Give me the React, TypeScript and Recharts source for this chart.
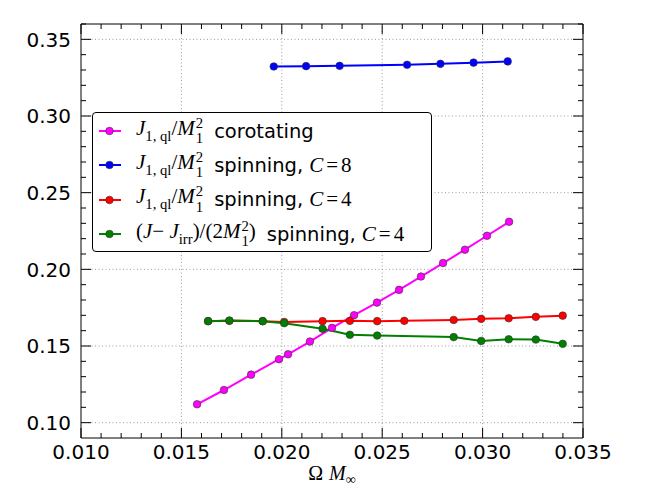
import React from 'react';
import { LineChart, Line, XAxis, YAxis, ReferenceLine, ReferenceArea, Legend } from 'recharts';

// J_{1,ql}/M_1^2, corotating
const corotOmega = [0.01578, 0.01712, 0.01847, 0.01986, 0.02031, 0.0214, 0.0225, 0.0236, 0.02474, 0.02584, 0.02693, 0.02803, 0.02912, 0.03022, 0.03132];
const corotJ = [0.112, 0.1213, 0.1313, 0.1414, 0.1446, 0.1529, 0.1618, 0.1701, 0.1783, 0.1866, 0.1953, 0.2041, 0.2128, 0.2219, 0.231];

// J_{1,ql}/M_1^2, spinning C=8
const spin8Omega = [0.0196, 0.02121, 0.02288, 0.02624, 0.0279, 0.02955, 0.03125];
const spin8J = [0.3323, 0.3325, 0.3327, 0.3334, 0.334, 0.3348, 0.3356];

// J_{1,ql}/M_1^2, spinning C=4
const spin4Omega = [0.01633, 0.01739, 0.01905, 0.02012, 0.02203, 0.02339, 0.02475, 0.0261, 0.02856, 0.02993, 0.0313, 0.03265, 0.03399];
const spin4J = [0.1662, 0.1664, 0.1662, 0.1657, 0.1662, 0.1664, 0.1662, 0.1664, 0.167, 0.1677, 0.1681, 0.169, 0.1698];

// (J - J_irr)/(2 M_1^2), spinning C=4
const diffOmega = [0.01633, 0.01739, 0.01905, 0.02012, 0.02203, 0.02339, 0.02475, 0.02856, 0.02993, 0.0313, 0.03265, 0.03399];
const diffJ = [0.1662, 0.1666, 0.1662, 0.1649, 0.1612, 0.1573, 0.1568, 0.1558, 0.1533, 0.1544, 0.1542, 0.1514];

const xMajor = [0.01, 0.015, 0.02, 0.025, 0.03, 0.035];
const yMajor = [0.1, 0.15, 0.2, 0.25, 0.3, 0.35];
const xDomain = [0.01, 0.035];
const yDomain = [0.09, 0.36];

const xTicks: number[] = [];
for (let i = 0; i <= 25; i++) xTicks.push(Number((0.01 + i * 0.001).toFixed(3)));
const yTicks: number[] = [];
for (let i = 0; i <= 26; i++) yTicks.push(Number((0.1 + i * 0.01).toFixed(2)));

const toPoints = (xs: number[], ys: number[]) => xs.map((x, i) => ({ x, y: ys[i] }));

const W = 648;
const H = 504;
const M = { top: 24, right: 65, left: 0, bottom: 0 };
const Y_AXIS_W = 81;
const X_AXIS_H = 66;
const PLOT_TOP = M.top;
const PLOT_BOTTOM = H - X_AXIS_H;
const PLOT_LEFT = Y_AXIS_W;
const PLOT_RIGHT = W - M.right;

const SANS = '"DejaVu Sans", sans-serif';
const SERIF = '"Liberation Serif", serif';

const isMajor = (v: number, list: number[]) => list.some((m) => Math.abs(m - v) < 1e-7);

function XTick(props: any) {
  const { x, payload } = props;
  const v = payload.value;
  const major = isMajor(v, xMajor);
  const len = major ? 10 : 5;
  return (
    <g>
      <line x1={x} x2={x} y1={PLOT_BOTTOM} y2={PLOT_BOTTOM - len} stroke="#000" />
      <line x1={x} x2={x} y1={PLOT_TOP} y2={PLOT_TOP + len} stroke="#000" />
      {major && (
        <text x={x} y={PLOT_BOTTOM + 21} textAnchor="middle" fontFamily={SANS} fontSize={20} fill="#000">
          {v.toFixed(3)}
        </text>
      )}
    </g>
  );
}

function YTick(props: any) {
  const { y, payload } = props;
  const v = payload.value;
  const major = isMajor(v, yMajor);
  const len = major ? 10 : 5;
  return (
    <g>
      <line x1={PLOT_LEFT} x2={PLOT_LEFT + len} y1={y} y2={y} stroke="#000" />
      <line x1={PLOT_RIGHT} x2={PLOT_RIGHT - len} y1={y} y2={y} stroke="#000" />
      {major && (
        <text x={PLOT_LEFT - 10} y={y} dy="0.36em" textAnchor="end" fontFamily={SANS} fontSize={20} fill="#000">
          {v.toFixed(2)}
        </text>
      )}
    </g>
  );
}

function XLabel(props: any) {
  const vb = props.viewBox || { x: PLOT_LEFT, y: PLOT_BOTTOM, width: PLOT_RIGHT - PLOT_LEFT };
  const cx = vb.x + vb.width / 2;
  return (
    <text x={cx} y={vb.y + 42} textAnchor="middle" fontFamily={SERIF} fontSize={20} fill="#000">
      <tspan>Ω</tspan>
      <tspan dx={6} fontStyle="italic">M</tspan>
      <tspan fontSize={14} dy={4}>∞</tspan>
    </text>
  );
}

function Scripts({ sup, sub }: { sup: string; sub: string }) {
  return (
    <span
      style={{
        display: 'inline-flex',
        flexDirection: 'column',
        fontSize: '0.7em',
        lineHeight: 1.05,
        verticalAlign: '0.5em',
        marginLeft: 1,
      }}
    >
      <span>{sup}</span>
      <span>{sub}</span>
    </span>
  );
}

const sub = (t: string) => <span style={{ fontSize: '0.7em', verticalAlign: '-0.4em' }}>{t}</span>;

const Jql = () => (
  <>
    <i>J</i>
    {sub('1, ql')}
    /<i>M</i>
    <Scripts sup="2" sub="1" />
  </>
);

const CalC = (n: string) => (
  <span style={{ fontFamily: SERIF, fontSize: 21, marginLeft: 6 }}>
    <i>C</i>
    <span style={{ margin: '0 3px' }}>=</span>
    {n}
  </span>
);

const legendRows = [
  { color: '#ff00ff', math: <Jql />, text: 'corotating', tail: null },
  { color: '#0000ff', math: <Jql />, text: 'spinning,', tail: CalC('8') },
  { color: '#ff0000', math: <Jql />, text: 'spinning,', tail: CalC('4') },
  {
    color: '#008000',
    math: (
      <>
        (<i>J</i>− <i>J</i>
        {sub('irr')})/(2<i>M</i>
        <Scripts sup="2" sub="1" />)
      </>
    ),
    text: 'spinning,',
    tail: CalC('4'),
  },
];

function LegendBox() {
  return (
    <div
      style={{
        width: 340,
        height: 140,
        boxSizing: 'border-box',
        border: '1px solid #000',
        borderRadius: 4,
        background: '#fff',
        paddingTop: 1,
      }}
    >
      {legendRows.map((r, i) => (
        <div key={i} style={{ display: 'flex', alignItems: 'center', height: 34.3, whiteSpace: 'nowrap' }}>
          <svg width={43} height={20} style={{ flex: 'none' }}>
            <line x1={6} x2={28} y1={10} y2={10} stroke={r.color} strokeWidth={2} />
            <circle cx={16.5} cy={10} r={3.8} fill={r.color} stroke="#333" strokeWidth={0.6} />
          </svg>
          <span style={{ fontFamily: SERIF, fontSize: 21 }}>{r.math}</span>
          <span style={{ fontFamily: SANS, fontSize: 19.5, marginLeft: 11 }}>{r.text}</span>
          {r.tail}
        </div>
      ))}
    </div>
  );
}

const series = [
  { name: 'corot', color: '#ff00ff', data: toPoints(corotOmega, corotJ) },
  { name: 'spin8', color: '#0000ff', data: toPoints(spin8Omega, spin8J) },
  { name: 'spin4', color: '#ff0000', data: toPoints(spin4Omega, spin4J) },
  { name: 'diff', color: '#008000', data: toPoints(diffOmega, diffJ) },
];

export default function App() {
  return (
    <div style={{ position: 'absolute', left: 0, top: 0, width: W, height: H, background: '#fff' }}>
      <LineChart width={W} height={H} margin={M}>
        <XAxis
          dataKey="x"
          type="number"
          domain={xDomain}
          ticks={xTicks}
          interval={0}
          allowDataOverflow
          axisLine={false}
          tickLine={false}
          tick={<XTick />}
          height={X_AXIS_H}
          label={{ content: (p: any) => <XLabel {...p} /> }}
        />
        <YAxis
          dataKey="y"
          type="number"
          domain={yDomain}
          ticks={yTicks}
          interval={0}
          allowDataOverflow
          axisLine={false}
          tickLine={false}
          tick={<YTick />}
          width={Y_AXIS_W}
        />
        {xMajor.slice(1, -1).map((v) => (
          <ReferenceLine key={'gx' + v} x={v} stroke="#999" strokeDasharray="1 2.5" />
        ))}
        {yMajor.map((v) => (
          <ReferenceLine key={'gy' + v} y={v} stroke="#999" strokeDasharray="1 2.5" />
        ))}
        <ReferenceArea x1={xDomain[0]} x2={xDomain[1]} y1={yDomain[0]} y2={yDomain[1]} fill="none" stroke="#000" strokeWidth={1} />
        {series.map((s) => (
          <Line
            key={s.name}
            data={s.data}
            dataKey="y"
            stroke={s.color}
            strokeWidth={2}
            dot={{ r: 3.8, fill: s.color, stroke: '#333', strokeWidth: 0.6 }}
            isAnimationActive={false}
          />
        ))}
        <Legend
          layout="vertical"
          align="center"
          verticalAlign="middle"
          content={() => <LegendBox />}
          wrapperStyle={{ left: 92, top: 112, width: 340, height: 140 }}
        />
      </LineChart>
    </div>
  );
}
